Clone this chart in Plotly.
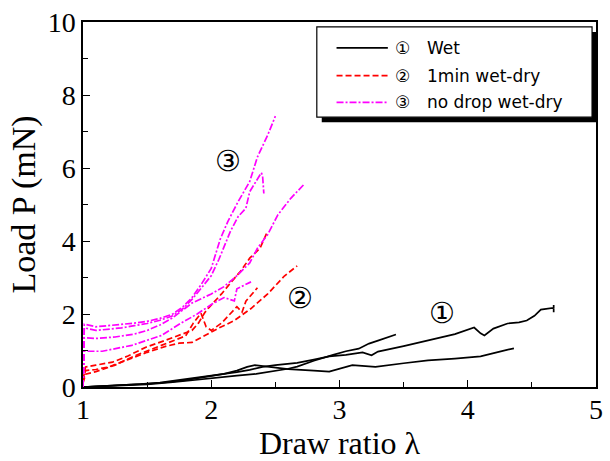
import plotly.graph_objects as go

# Load P (mN) versus draw ratio for three treatment groups, several specimens each

# (1) Wet
wet_a_x = [1.00, 1.15, 1.30, 1.45, 1.60, 1.75, 1.90, 2.00, 2.10, 2.20, 2.30, 2.40, 2.50, 2.60, 2.67,
           2.80, 2.92, 3.05, 3.18, 3.25, 3.30, 3.50, 3.69, 3.90, 4.05, 4.10, 4.13, 4.20, 4.31, 4.40,
           4.46, 4.52, 4.57, 4.67, 4.67, 4.67]
wet_a_y = [0.00, 0.02, 0.04, 0.08, 0.12, 0.19, 0.27, 0.32, 0.36, 0.41, 0.47, 0.55, 0.60, 0.63, 0.66,
           0.75, 0.84, 0.88, 0.95, 0.87, 0.97, 1.12, 1.28, 1.45, 1.63, 1.47, 1.41, 1.60, 1.74, 1.77,
           1.82, 1.95, 2.12, 2.17, 2.25, 2.05]

wet_b_x = [1.00, 1.20, 1.50, 1.70, 1.90, 2.05, 2.20, 2.35, 2.50, 2.60, 2.67, 2.80, 2.95, 3.05,
           3.15, 3.23, 3.30, 3.44]
wet_b_y = [0.00, 0.03, 0.07, 0.13, 0.21, 0.26, 0.31, 0.36, 0.44, 0.50, 0.56, 0.72, 0.88, 0.98,
           1.05, 1.19, 1.27, 1.44]

wet_c_x = [1.00, 1.20, 1.40, 1.60, 1.80, 2.00, 2.10, 2.20, 2.28, 2.34, 2.45, 2.60, 2.80, 2.92,
           3.10, 3.28, 3.50, 3.69, 3.90, 4.10, 4.25, 4.36]
wet_c_y = [0.00, 0.03, 0.06, 0.11, 0.19, 0.29, 0.36, 0.45, 0.55, 0.60, 0.56, 0.49, 0.45, 0.42,
           0.60, 0.55, 0.65, 0.73, 0.78, 0.84, 0.97, 1.06]

# (2) 1 min wet-dry
dry1_a_x = [1.00, 1.02, 1.10, 1.23, 1.35, 1.49, 1.62, 1.75, 1.85, 1.90, 1.95, 1.98, 2.08, 2.15,
            2.23, 2.30, 2.38, 2.44]
dry1_a_y = [0.20, 0.55, 0.60, 0.68, 0.85, 1.09, 1.25, 1.41, 1.55, 1.75, 2.04, 2.17, 2.55, 2.85,
            3.18, 3.53, 3.80, 4.27]

dry1_b_x = [1.00, 1.02, 1.10, 1.20, 1.35, 1.50, 1.65, 1.75, 1.85, 1.95, 2.05, 2.18, 2.31, 2.44,
            2.57, 2.67]
dry1_b_y = [0.15, 0.45, 0.48, 0.55, 0.75, 0.95, 1.12, 1.20, 1.22, 1.41, 1.60, 1.82, 2.15, 2.55,
            3.04, 3.32]

dry1_c_x = [1.00, 1.02, 1.10, 1.25, 1.40, 1.55, 1.70, 1.80, 1.86, 1.92, 1.96, 2.00, 2.08, 2.15,
            2.20, 2.24, 2.27, 2.36]
dry1_c_y = [0.10, 0.35, 0.42, 0.60, 0.85, 1.05, 1.25, 1.40, 1.75, 2.02, 1.65, 1.55, 1.75, 2.00,
            2.20, 2.05, 2.35, 2.72]

# (3) no drop wet-dry
nodrop_a_x = [1.00, 1.01, 1.10, 1.20, 1.30, 1.40, 1.50, 1.60, 1.70, 1.78, 1.85, 1.92, 2.00, 2.07,
              2.13, 2.21, 2.30, 2.36, 2.44, 2.50]
nodrop_a_y = [0.00, 1.72, 1.65, 1.68, 1.70, 1.75, 1.80, 1.88, 2.00, 2.20, 2.45, 2.80, 3.25, 4.05,
              4.54, 5.08, 5.63, 6.30, 6.90, 7.42]

nodrop_b_x = [1.00, 1.01, 1.10, 1.20, 1.30, 1.40, 1.50, 1.60, 1.70, 1.78, 1.85, 1.92, 2.00, 2.06,
              2.12, 2.15, 2.21, 2.27, 2.30, 2.35, 2.39, 2.40, 2.41]
nodrop_b_y = [0.00, 1.62, 1.55, 1.58, 1.62, 1.68, 1.74, 1.83, 1.95, 2.15, 2.40, 2.70, 3.05, 3.50,
              4.00, 4.27, 4.67, 4.90, 5.35, 5.63, 5.87, 5.80, 5.30]

nodrop_c_x = [1.00, 1.01, 1.10, 1.25, 1.40, 1.50, 1.60, 1.70, 1.85, 2.00, 2.10, 2.20, 2.30, 2.36,
              2.44, 2.52, 2.62, 2.72]
nodrop_c_y = [0.00, 1.35, 1.33, 1.37, 1.45, 1.55, 1.70, 1.90, 2.30, 2.55, 2.75, 3.05, 3.40, 3.80,
              4.18, 4.72, 5.17, 5.54]

nodrop_d_x = [1.00, 1.01, 1.15, 1.38, 1.61, 1.76, 1.89, 2.01, 2.10, 2.18, 2.20, 2.26, 2.31]
nodrop_d_y = [0.00, 0.98, 0.98, 1.14, 1.41, 1.74, 2.00, 2.28, 2.45, 2.36, 2.69, 2.80, 2.88]

# circled group labels
group_marks = ["①", "②", "③"]
group_mark_x = [3.80, 2.69, 2.13]
group_mark_y = [2.04, 2.45, 6.20]

legend_labels = ["Wet", "1min wet-dry", "no drop wet-dry"]

x_ticks = [1, 2, 3, 4, 5]
y_ticks = [0, 2, 4, 6, 8, 10]

BLACK = "#000000"
RED = "#ff0000"
MAGENTA = "#ff00ff"
RED_DASH = "6px,3px"
MAG_DASH = "7px,2px,2px,2px"

fig = go.Figure()

series = [
    (wet_a_x, wet_a_y, BLACK, "solid"),
    (wet_b_x, wet_b_y, BLACK, "solid"),
    (wet_c_x, wet_c_y, BLACK, "solid"),
    (dry1_a_x, dry1_a_y, RED, RED_DASH),
    (dry1_b_x, dry1_b_y, RED, RED_DASH),
    (dry1_c_x, dry1_c_y, RED, RED_DASH),
    (nodrop_a_x, nodrop_a_y, MAGENTA, MAG_DASH),
    (nodrop_b_x, nodrop_b_y, MAGENTA, MAG_DASH),
    (nodrop_c_x, nodrop_c_y, MAGENTA, MAG_DASH),
    (nodrop_d_x, nodrop_d_y, MAGENTA, MAG_DASH),
]
for xs, ys, col, dash in series:
    fig.add_trace(go.Scatter(x=xs, y=ys, mode="lines",
                             line=dict(color=col, width=1.7, dash=dash),
                             showlegend=False, hoverinfo="skip"))

# circled numbers next to each group of curves
for mark, mx, my in zip(group_marks, group_mark_x, group_mark_y):
    fig.add_annotation(x=mx, y=my, xref="x", yref="y", text=mark, showarrow=False,
                       xanchor="center", yanchor="middle",
                       font=dict(family="DejaVu Sans", size=29, color="black"))

# hand-drawn legend box with drop shadow
def px_x(p):
    return (p - 83) / 520.0

def px_y(p):
    return (387 - p) / 368.0

fig.add_shape(type="rect", xref="paper", yref="paper",
              x0=px_x(325), x1=px_x(604), y0=px_y(120), y1=px_y(29),
              fillcolor="black", line=dict(width=0), layer="above")
fig.add_shape(type="rect", xref="paper", yref="paper",
              x0=px_x(320), x1=px_x(599), y0=px_y(115), y1=px_y(24),
              fillcolor="white", line=dict(color="black", width=1.2), layer="above")

legend_rows = [45, 73, 100]
legend_styles = [(BLACK, "solid"), (RED, RED_DASH), (MAGENTA, MAG_DASH)]
for row, (col, dash), mark, label in zip(legend_rows, legend_styles, group_marks, legend_labels):
    fig.add_shape(type="line", xref="paper", yref="paper",
                  x0=px_x(340), x1=px_x(392), y0=px_y(row), y1=px_y(row),
                  line=dict(color=col, width=1.7, dash=dash), layer="above")
    fig.add_annotation(x=px_x(407), y=px_y(row), xref="paper", yref="paper", text=mark,
                       xanchor="center", yanchor="middle", showarrow=False,
                       font=dict(family="DejaVu Sans", size=17, color="black"))
    fig.add_annotation(x=px_x(430), y=px_y(row), xref="paper", yref="paper", text=label,
                       xanchor="left", yanchor="middle", showarrow=False,
                       font=dict(family="DejaVu Sans", size=17, color="black"))

axis_common = dict(
    showgrid=False, zeroline=False,
    showline=True, linecolor="black", linewidth=1.5, mirror=True,
    ticks="inside", ticklen=7, tickwidth=1.3, tickcolor="black",
    tickfont=dict(family="Liberation Serif", size=28, color="black"),
)

fig.update_xaxes(range=[1, 5], tickvals=x_ticks, ticktext=[str(v) for v in x_ticks],
                 ticklabelstandoff=-3,
                 minor=dict(ticks="inside", ticklen=5, tickwidth=1.2, tickcolor="black", dtick=0.5),
                 title=dict(text="Draw ratio λ", standoff=6,
                            font=dict(family="Liberation Serif", size=32, color="black")),
                 **axis_common)
fig.update_yaxes(range=[0, 10], tickvals=y_ticks, ticktext=[str(v) for v in y_ticks],
                 minor=dict(ticks="inside", ticklen=5, tickwidth=1.2, tickcolor="black", dtick=1),
                 title=dict(text="Load P (mN)", standoff=2,
                            font=dict(family="Liberation Serif", size=34, color="black")),
                 **axis_common)

fig.update_layout(
    width=610, height=461,
    margin=dict(l=83, r=7, t=19, b=74),
    paper_bgcolor="white", plot_bgcolor="white",
    showlegend=False,
)

fig.write_html("out.html")
